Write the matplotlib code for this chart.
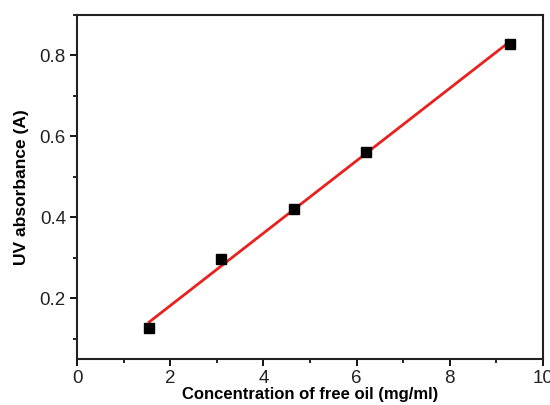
import matplotlib
matplotlib.use('Agg')
import matplotlib.pyplot as plt
import numpy as np
from matplotlib.ticker import MultipleLocator

plt.rcParams['font.family'] = ['Liberation Sans', 'DejaVu Sans']

# données
conc = np.array([1.55, 3.1, 4.65, 6.2, 9.3])
absorb = np.array([0.125, 0.297, 0.420, 0.561, 0.829])

# régression linéaire
pente, ordo = np.polyfit(conc, absorb, 1)
x_fit = np.array([conc.min(), conc.max()])
y_fit = pente * x_fit + ordo

fig, ax = plt.subplots(figsize=(5.5, 4.05), dpi=100)
fig.subplots_adjust(left=0.14, right=0.987, top=0.963, bottom=0.114)

ax.plot(x_fit, y_fit, color='#e8201e', linewidth=2.0, zorder=2)
ax.plot(conc, absorb, 's', color='black', markersize=6.5, zorder=3)

ax.set_xlim(0, 10)
ax.set_ylim(0.05, 0.9)
ax.xaxis.set_major_locator(MultipleLocator(2))
ax.xaxis.set_minor_locator(MultipleLocator(1))
ax.yaxis.set_major_locator(MultipleLocator(0.2))
ax.yaxis.set_minor_locator(MultipleLocator(0.1))
ax.set_yticks([0.2, 0.4, 0.6, 0.8])

for s in ax.spines.values():
    s.set_linewidth(1.5)
    s.set_color('#222222')
ax.tick_params(which='major', direction='out', length=5, width=1.3, labelsize=13.5,
               labelcolor='#222222', pad=3)
ax.tick_params(which='minor', direction='out', length=3, width=1.2)

ax.set_xlabel('Concentration of free oil (mg/ml)', fontsize=12, fontweight='bold', labelpad=0)
ax.set_ylabel('UV absorbance (A)', fontsize=12.5, fontweight='bold', labelpad=8)

fig.savefig('out.png', dpi=100)
